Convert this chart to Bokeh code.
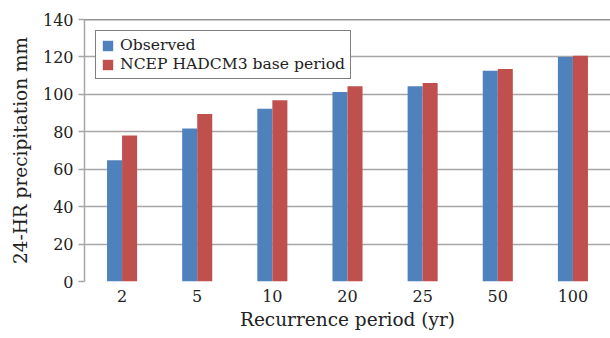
from bokeh.plotting import figure
from bokeh.models import ColumnDataSource, FactorRange, FixedTicker, Span, Legend, LegendItem
from bokeh.transform import dodge
from bokeh.embed import file_html
from bokeh.resources import INLINE

periods = ["2", "5", "10", "20", "25", "50", "100"]
observed = [64.8, 81.8, 92.3, 101.2, 104.3, 112.6, 119.9]
ncep = [78.0, 89.5, 96.8, 104.3, 106.1, 113.6, 120.6]
y_ticks = [0, 20, 40, 60, 80, 100, 120, 140]

FONT = "DejaVu Serif"
GRID = "#a6a6a6"
TXT = "#222222"

src = ColumnDataSource(dict(period=periods, observed=observed, ncep=ncep))

p = figure(width=610, height=338, x_range=FactorRange(*periods, range_padding=0),
           y_range=(0, 140), output_backend="svg", toolbar_location=None,
           min_border_left=84, min_border_right=0, min_border_top=19, min_border_bottom=57)
p.outline_line_color = None
p.background_fill_color = "white"

r1 = p.vbar(x=dodge("period", -0.1, range=p.x_range), top="observed", width=0.2,
            source=src, fill_color="#4f81bd", line_color=None)
r2 = p.vbar(x=dodge("period", 0.1, range=p.x_range), top="ncep", width=0.2,
            source=src, fill_color="#c0504d", line_color=None)

p.xgrid.grid_line_color = None
p.ygrid.grid_line_color = GRID
p.ygrid.grid_line_width = 1.5
p.ygrid.level = "underlay"

p.add_layout(Span(location=140, dimension="width", line_color="#2a2a2a", line_width=1.6))

p.yaxis.ticker = FixedTicker(ticks=y_ticks)
p.yaxis.axis_line_color = GRID
p.yaxis.axis_line_width = 1.5
p.yaxis.major_tick_line_color = GRID
p.yaxis.major_tick_line_width = 1.5
p.yaxis.major_tick_out = 6
p.yaxis.major_tick_in = 0
p.yaxis.minor_tick_line_color = None
p.yaxis.major_label_standoff = 5
p.yaxis.axis_label = "24-HR precipitation mm"
p.yaxis.axis_label_standoff = 9

p.xaxis.axis_line_color = None
p.xaxis.major_tick_line_color = None
p.xaxis.minor_tick_line_color = None
p.xaxis.major_tick_out = 0
p.xaxis.major_tick_in = 0
p.xaxis.major_label_standoff = 8
p.xaxis.axis_label = "Recurrence period (yr)"
p.xaxis.axis_label_standoff = 4

for ax in (p.xaxis, p.yaxis):
    ax.major_label_text_font = FONT
    ax.major_label_text_font_size = "16px"
    ax.major_label_text_color = TXT
    ax.axis_label_text_font = FONT
    ax.axis_label_text_font_size = "18.5px"
    ax.axis_label_text_font_style = "normal"
    ax.axis_label_text_color = TXT

legend = Legend(items=[LegendItem(label="Observed", renderers=[r1]),
                       LegendItem(label="NCEP HADCM3 base period", renderers=[r2])],
                location="top_left", margin=11)
legend.label_text_font = FONT
legend.label_text_font_size = "15.6px"
legend.label_text_color = TXT
legend.glyph_width = 13
legend.glyph_height = 13
legend.label_standoff = 6
legend.spacing = 1
legend.padding = 5
legend.border_line_color = "black"
legend.border_line_width = 1
legend.background_fill_alpha = 1
p.add_layout(legend)

open("out.html", "w").write(file_html(p, INLINE))
